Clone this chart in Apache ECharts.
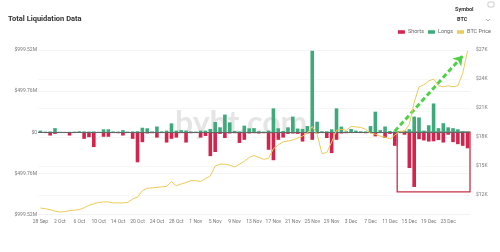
<!DOCTYPE html>
<html><head><meta charset="utf-8">
<script src="https://cdn.jsdelivr.net/npm/echarts@6/dist/echarts.min.js"></script>
<style>html,body{margin:0;padding:0;background:#fff}#c{width:500px;height:252px}</style>
</head><body><div id="c"></div>
<script>
const categories = ['28 Sep','29 Sep','30 Sep','1 Oct','2 Oct','3 Oct','4 Oct','5 Oct','6 Oct','7 Oct','8 Oct','9 Oct','10 Oct','11 Oct','12 Oct','13 Oct','14 Oct','15 Oct','17 Oct','18 Oct',
'20 Oct','21 Oct','22 Oct','23 Oct','24 Oct','25 Oct','26 Oct','27 Oct','28 Oct','29 Oct','30 Oct','31 Oct',
'1 Nov','2 Nov','3 Nov','4 Nov','5 Nov','6 Nov','7 Nov','8 Nov','9 Nov','10 Nov','11 Nov','12 Nov','13 Nov','14 Nov','15 Nov','16 Nov','17 Nov','18 Nov','19 Nov','20 Nov','21 Nov','22 Nov','23 Nov','24 Nov','25 Nov','26 Nov','27 Nov','28 Nov','29 Nov','30 Nov',
'1 Dec','2 Dec','3 Dec','4 Dec','5 Dec','6 Dec','7 Dec','8 Dec','9 Dec','10 Dec','11 Dec','12 Dec','13 Dec','14 Dec','15 Dec','16 Dec','17 Dec','18 Dec','19 Dec','20 Dec','21 Dec','22 Dec','23 Dec','24 Dec','25 Dec','26 Dec','27 Dec'];

// liquidations in $M
const longs = [20,8,10,50,6,5,6,8,12,10,
8,10,6,36,36,10,8,25,8,10,
12,55,48,10,70,10,20,108,20,25,
20,10,8,20,20,40,125,60,215,120,
15,10,80,48,50,12,8,20,290,48,
15,60,190,45,40,76,990,128,12,12,
36,290,68,12,40,20,12,10,75,250,
25,70,15,10,15,20,36,190,180,20,
85,350,50,110,60,50,36,15,10];
const shorts = [8,10,40,20,8,6,40,10,6,80,
60,180,8,55,55,10,12,40,10,80,
365,120,15,12,65,10,125,80,65,10,
125,12,10,65,45,290,240,20,70,15,
10,130,92,15,10,15,12,213,340,92,
65,20,15,20,113,15,92,15,10,70,
253,92,15,12,10,8,10,12,10,50,
10,70,20,165,10,30,435,665,85,100,
113,110,95,125,30,120,145,165,195];
// BTC price in $K
const btcPrice = [10.67,10.6,10.5,10.35,10.26,10.3,10.4,10.45,10.5,10.7,
10.95,11.1,11.25,11.3,11.3,11.2,11.2,11.2,11.25,11.6,
11.8,12.46,12.7,12.75,12.8,12.85,12.9,13.4,12.97,13.15,
13.3,13.5,13.5,13.4,13.7,14.0,15.0,15.2,15.2,15.1,
14.9,15.2,15.5,15.9,16.1,15.9,15.7,15.8,16.8,17.2,
17.5,17.6,17.7,17.9,18.1,18.4,19.1,18.3,16.3,16.4,
17.5,18.7,18.8,18.7,19.1,19.05,19.0,18.8,18.4,18.3,
18.1,18.0,17.8,18.2,18.6,18.6,19.3,21.6,23.2,23.4,
23.8,24.0,23.3,23.2,23.3,23.2,23.3,24.6,26.9];

const liqTicks = [-999.52, -499.76, 0, 499.76, 999.52];
const priceTicks = [12000, 15000, 18000, 21000, 24000, 27000];

const RED = '#d2244d', GREEN = '#3eaa7c', GOLD = '#eccb58';
const F = 'Roboto, "Noto Sans", sans-serif';

const chart = echarts.init(document.getElementById('c'), null, {renderer: 'canvas'});
chart.setOption({
  animation: false,
  textStyle: {fontFamily: F},
  title: {text: 'Total Liquidation Data', left: 3, top: 10,
    textStyle: {fontSize: 7.5, fontWeight: 'bold', color: '#333', fontFamily: F}},
  legend: {right: 9, top: 29, itemWidth: 7, itemHeight: 3.5, itemGap: 4, padding: 0,
    textStyle: {fontSize: 5.5, color: '#666', padding: [0,0,0,-2]},
    data: [{name: 'Shorts', icon: 'rect'}, {name: 'Longs', icon: 'rect'}, {name: 'BTC Price', icon: 'rect'}]},
  graphic: [
    {type: 'text', left: 175, top: 108, z: -1, silent: true,
      style: {text: 'bybt.com', fontSize: 32, fontWeight: 'bold', fontFamily: 'Lato, Roboto, sans-serif', fill: 'rgba(190,190,190,0.4)'}},
    {type: 'text', left: 455, top: 7, style: {text: 'Symbol', fontSize: 5.5, fontWeight: 'bold', fill: '#333', fontFamily: F}},
    {type: 'text', left: 457, top: 17, style: {text: 'BTC', fontSize: 5.5, fontWeight: 'bold', fill: '#333', fontFamily: F}},
    {type: 'polyline', shape: {points: [[486,19],[488,21],[490,19]]}, style: {stroke: '#999', lineWidth: 0.7, fill: null}},
    {type: 'rect', shape: {x: 488, y: 2, width: 6, height: 5, r: 1}, style: {stroke: '#aaa', lineWidth: 0.6, fill: null}}
  ],
  grid: {left: 38, right: 30, top: 50, bottom: 37.5},
  xAxis: {type: 'category', data: categories, boundaryGap: true,
    axisLine: {show: false}, axisTick: {show: false},
    axisLabel: {interval: (i) => i % 4 === 0 && i < categories.length - 1, fontSize: 5, color: '#777', margin: 5}},
  yAxis: [
    {type: 'value', min: liqTicks[0], max: liqTicks[4], interval: 499.76,
      axisLine: {show: false}, axisTick: {show: false},
      axisLabel: {fontSize: 5, color: '#777', margin: 1,
        formatter: v => Math.abs(v) < 1e-6 ? '$0' : '$' + Math.abs(v).toFixed(2) + 'M'},
      splitLine: {lineStyle: {color: '#f0f0f0', width: 0.8}}},
    {type: 'value', min: 10000, max: 27000, position: 'right',
      axisLine: {show: false},
      axisTick: {show: false, customValues: priceTicks},
      axisLabel: {fontSize: 5, color: '#777', margin: 6, customValues: priceTicks,
        formatter: v => '$' + (v / 1000) + 'K'},
      splitLine: {show: true, lineStyle: {color: '#f5f5f5', width: 0.8}}}
  ],
  series: [
    {name: 'Shorts', type: 'bar', stack: 'liq', barWidth: 3.6, data: shorts.map(v => -v),
      itemStyle: {color: RED},
      markArea: {silent: true, itemStyle: {color: 'rgba(0,0,0,0)', borderColor: '#c92f48', borderWidth: 1.3},
        data: [[{xAxis: '12 Dec', yAxis: 0}, {xAxis: '27 Dec', yAxis: -725}]]}},
    {name: 'Longs', type: 'bar', stack: 'liq', barWidth: 3.6, data: longs,
      itemStyle: {color: GREEN},
      markLine: {silent: true, symbol: 'none', label: {show: false},
        lineStyle: {color: '#666', width: 1, type: 'solid'}, data: [{yAxis: 0}]}},
    {name: 'BTC Price', type: 'line', yAxisIndex: 1, data: btcPrice.map(v => v * 1000),
      showSymbol: false, symbol: 'none', lineStyle: {color: GOLD, width: 1}, itemStyle: {color: GOLD}, z: 5,
      markLine: {silent: true, symbol: ['none', 'arrow'], symbolSize: 9, label: {show: false},
        lineStyle: {color: '#4fd146', width: 3, type: [5, 3]},
        data: [[{coord: ['12 Dec', 18600]}, {coord: ['26 Dec', 26400]}]]}}
  ]
});
</script></body></html>
